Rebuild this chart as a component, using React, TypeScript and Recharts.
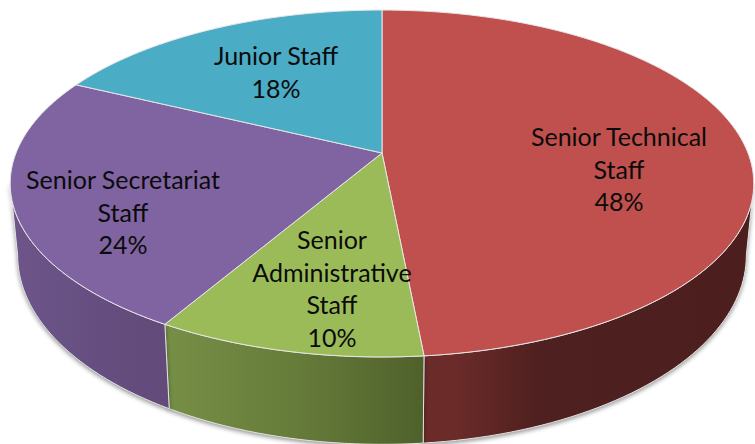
import React from "react";
import { PieChart, Pie } from "recharts";

// Values are consistent with the printed whole-number percentages.
const categories = ["Senior Technical Staff", "Senior Administrative Staff", "Senior Secretariat Staff", "Junior Staff"];
const shares = [48.49, 9.9, 23.8, 17.81];
const labelLines = [
  ["Senior Technical", "Staff"],
  ["Senior", "Administrative", "Staff"],
  ["Senior Secretariat", "Staff"],
  ["Junior Staff"],
];
const topColors = ["#C0504D", "#9BBB59", "#8064A2", "#4BACC6"];
const wallStops: [number, string][][] = [
  [[0.1, "#6a2b29"], [0.35, "#4e201f"], [1, "#4c1f1e"]],
  [[0, "#768f46"], [0.5, "#667c3a"], [1, "#4f612b"]],
  [[0, "#6d558b"], [0.5, "#664f80"], [1, "#624b7a"]],
  [[0, "#2f7f94"], [1, "#2f7f94"]],
];

const data = categories.map((name, i) => ({ name, value: shares[i] }));

// Layout of the tilted, perspective disc
const CX = 382;
const CY = 153;
const RADIUS = 366;
const PERSPECTIVE = 0.1758;
const FLATTEN = 0.4593;
const WALL_SCALE_X = 0.98;
const WALL_SCALE_Y = 1.09;
const WALL_DROP = 69;
const WALL_FRONT_START = -10.1; // silhouette angle on the right
const WALL_FRONT_END = -169.9; // silhouette angle on the left
const LABEL_CENTERS = [
  [619, 136],
  [332, 239],
  [123, 179],
  [276, 55],
];
const LINE_HEIGHT = 32.6;

const project = (cx: number, cy: number, r: number, deg: number) => {
  const a = (deg * Math.PI) / 180;
  const u = Math.cos(a);
  const v = -Math.sin(a);
  const w = 1 - PERSPECTIVE * v;
  return { x: cx + (r * u) / w, y: cy + (r * FLATTEN * v) / w };
};

const arcPoints = (cx: number, cy: number, r: number, start: number, end: number) => {
  const n = Math.max(2, Math.ceil(Math.abs(end - start) / 1.5));
  const pts = [];
  for (let i = 0; i <= n; i++) pts.push(project(cx, cy, r, start + ((end - start) * i) / n));
  return pts;
};

const toPath = (pts: { x: number; y: number }[]) =>
  pts.map((p, i) => `${i ? "L" : "M"}${p.x.toFixed(2)} ${p.y.toFixed(2)}`).join(" ") + " Z";

const TopShape = (props: any) => {
  const { cx, cy, outerRadius, startAngle, endAngle, fill } = props;
  const pts = [{ x: cx, y: cy }, ...arcPoints(cx, cy, outerRadius, startAngle, endAngle)];
  return <path d={toPath(pts)} fill={fill} stroke="#e6e6e6" strokeWidth={1} strokeLinejoin="round" />;
};

const WallShape = (props: any) => {
  const { cx, cy, outerRadius, startAngle, endAngle, index } = props;
  // Only the front arc of each slice has a visible wall.
  const from = Math.min(startAngle, WALL_FRONT_START);
  const to = Math.max(endAngle, WALL_FRONT_END);
  if (from <= to) return <g />;
  const rim = arcPoints(cx, cy, outerRadius, from, to);
  const base = rim
    .map((p) => ({
      x: cx + (p.x - cx) * WALL_SCALE_X,
      y: cy + (p.y - cy) * WALL_SCALE_Y + WALL_DROP,
    }))
    .reverse();
  const id = `wall-${index}`;
  return (
    <g style={{ filter: "drop-shadow(0px 2px 2px rgba(0,0,0,0.4))" }}>
      <defs>
        <linearGradient id={id} x1="0" x2="1" y1="0" y2="0">
          {wallStops[index].map(([o, c]) => (
            <stop key={o} offset={o} stopColor={c} />
          ))}
        </linearGradient>
      </defs>
      <path d={toPath([...rim, ...base])} fill={`url(#${id})`} stroke="#e2e2e2" strokeWidth={1} strokeLinejoin="round" />
    </g>
  );
};

const renderLabel = (props: any) => {
  const { index, percent } = props;
  const [x, y] = LABEL_CENTERS[index];
  const lines = [...labelLines[index], `${Math.round(percent * 100)}%`];
  return (
    <text
      key={index}
      x={x}
      y={y}
      textAnchor="middle"
      fill="#0b0b0b"
      style={{ fontFamily: "Lato, sans-serif", fontSize: 25 }}
    >
      {lines.map((line, i) => (
        <tspan key={i} x={x} y={y + i * LINE_HEIGHT} dominantBaseline="central">
          {line}
        </tspan>
      ))}
    </text>
  );
};

const pieProps = {
  dataKey: "value",
  nameKey: "name",
  cx: CX,
  cy: CY,
  innerRadius: 0,
  outerRadius: RADIUS,
  startAngle: 90,
  endAngle: -270,
  isAnimationActive: false,
  paddingAngle: 0,
};

const coloredData = data.map((d, i) => ({ ...d, fill: topColors[i] }));

export default function App() {
  return (
    <div style={{ position: "absolute", left: 0, top: 0, width: 755, height: 444, background: "#fff" }}>
      <PieChart width={755} height={444} margin={{ top: 0, right: 0, bottom: 0, left: 0 }}>
        <Pie {...pieProps} data={coloredData} shape={WallShape} label={false} labelLine={false} />
        <Pie {...pieProps} data={coloredData} shape={TopShape} label={renderLabel} labelLine={false} />
      </PieChart>
    </div>
  );
}
